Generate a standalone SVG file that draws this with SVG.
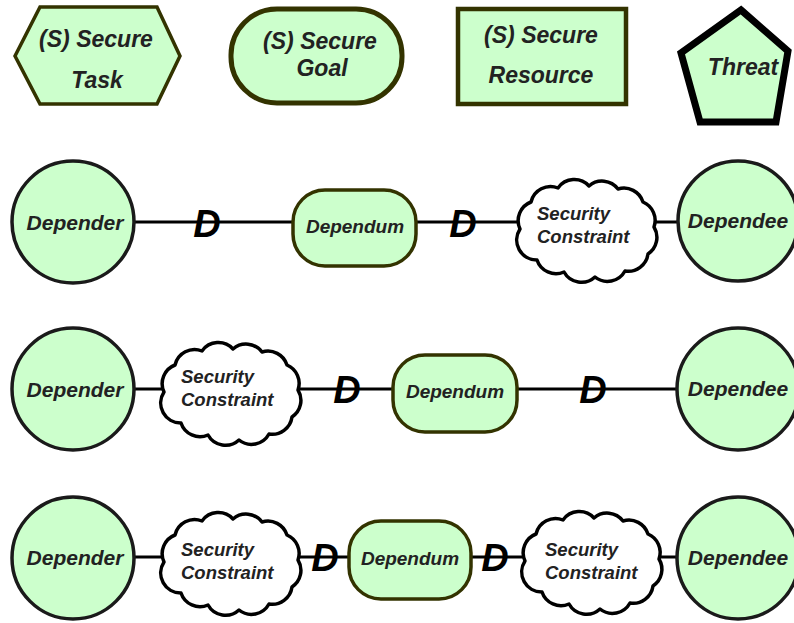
<svg xmlns="http://www.w3.org/2000/svg" xmlns:xlink="http://www.w3.org/1999/xlink" width="794" height="623" viewBox="0 0 794 623">
<defs>
<style>
text{font-family:"Liberation Sans",Arial,sans-serif;font-weight:bold;font-style:italic;fill:#222}
.top{font-size:23px;text-anchor:middle}
.actor{fill:#ccffcc;stroke:#1a1a1a;stroke-width:3.5}
.dep{fill:#ccffcc;stroke:#333300;stroke-width:3.5}
.an{font-size:21px;text-anchor:middle}
.dn{font-size:19px;text-anchor:middle}
.cn{font-size:18.5px}
.D{font-size:38px;text-anchor:middle;fill:#000}
.conn{stroke:#000;stroke-width:3;fill:none}
.cloud{fill:#fff;stroke:#000;stroke-width:3.5;stroke-linejoin:round}
</style>
<path id="cloudShape" class="cloud" d="M-67,-2 A20,20 0 0 1 -56,-29 A20,20 0 0 1 -29,-43 A20,20 0 0 1 2,-45 A20,20 0 0 1 31,-42 A20,20 0 0 1 56,-29 A20,20 0 0 1 67,-4 A20,20 0 0 1 61,23 A20,20 0 0 1 38,40 A20,20 0 0 1 8,46 A20,20 0 0 1 -23,41 A20,20 0 0 1 -50,29 A20,20 0 0 1 -67,-2 Z"/>
</defs>
<rect width="794" height="623" fill="#fff"/>

<g id="connectors">
<line class="conn" x1="72" y1="222" x2="738" y2="222"/>
<line class="conn" x1="72" y1="389" x2="738" y2="389"/>
<line class="conn" x1="72" y1="557" x2="738" y2="557"/>
<text class="D" x="207" y="237">D</text>
<text class="D" x="463" y="237">D</text>
<text class="D" x="347" y="403">D</text>
<text class="D" x="593" y="403">D</text>
<text class="D" x="325" y="571">D</text>
<text class="D" x="495" y="571">D</text>
</g>

<g id="secure-task">
<polygon points="15,56 40,7 157,7 180,56 157,104 40,104" fill="#ccffcc" stroke="#333300" stroke-width="3.5"/>
<text class="top" x="96" y="47">(S) Secure</text>
<text class="top" x="97" y="88">Task</text>
</g>
<g id="secure-goal">
<rect x="231" y="9" width="171" height="94" rx="46" ry="46" fill="#ccffcc" stroke="#333300" stroke-width="5"/>
<text class="top" x="320" y="49">(S) Secure</text>
<text class="top" x="322" y="76">Goal</text>
</g>
<g id="secure-resource">
<rect x="458" y="9" width="168" height="95" fill="#ccffcc" stroke="#333300" stroke-width="4.5"/>
<text class="top" x="541" y="43">(S) Secure</text>
<text class="top" x="541" y="83">Resource</text>
</g>
<g id="threat">
<polygon points="741,10 788,51 776,122 700,122 681,53" fill="#ccffcc" stroke="#000" stroke-width="7"/>
<text class="top" x="743" y="75">Threat</text>
</g>

<!-- Row 1 -->
<g id="depender1"><circle class="actor" cx="73" cy="222" r="61"/><text class="an" x="75" y="230">Depender</text></g>
<g id="dependum1"><rect class="dep" x="293" y="190" width="123" height="76" rx="32"/><text class="dn" x="355" y="233">Dependum</text></g>
<g id="constraint1"><use xlink:href="#cloudShape" transform="translate(587,231)"/><text class="cn" x="537" y="220">Security</text><text class="cn" x="537" y="243">Constraint</text></g>
<g id="dependee1"><circle class="actor" cx="738" cy="221" r="60"/><text class="an" x="738" y="228">Dependee</text></g>

<!-- Row 2 -->
<g id="depender2"><circle class="actor" cx="73" cy="389" r="61"/><text class="an" x="75" y="397">Depender</text></g>
<g id="constraint2"><use xlink:href="#cloudShape" transform="translate(231,394)"/><text class="cn" x="181" y="383">Security</text><text class="cn" x="181" y="406">Constraint</text></g>
<g id="dependum2"><rect class="dep" x="393" y="355" width="124" height="77" rx="32"/><text class="dn" x="455" y="398">Dependum</text></g>
<g id="dependee2"><circle class="actor" cx="738" cy="389" r="61"/><text class="an" x="738" y="396">Dependee</text></g>

<!-- Row 3 -->
<g id="depender3"><circle class="actor" cx="73" cy="558" r="61"/><text class="an" x="75" y="565">Depender</text></g>
<g id="constraint3a"><use xlink:href="#cloudShape" transform="translate(231,564)"/><text class="cn" x="181" y="556">Security</text><text class="cn" x="181" y="579">Constraint</text></g>
<g id="dependum3"><rect class="dep" x="349" y="521" width="122" height="78" rx="32"/><text class="dn" x="410" y="565">Dependum</text></g>
<g id="constraint3b"><use xlink:href="#cloudShape" transform="translate(592,563)"/><text class="cn" x="545" y="556">Security</text><text class="cn" x="545" y="579">Constraint</text></g>
<g id="dependee3"><circle class="actor" cx="738" cy="558" r="61"/><text class="an" x="738" y="565">Dependee</text></g>
</svg>
